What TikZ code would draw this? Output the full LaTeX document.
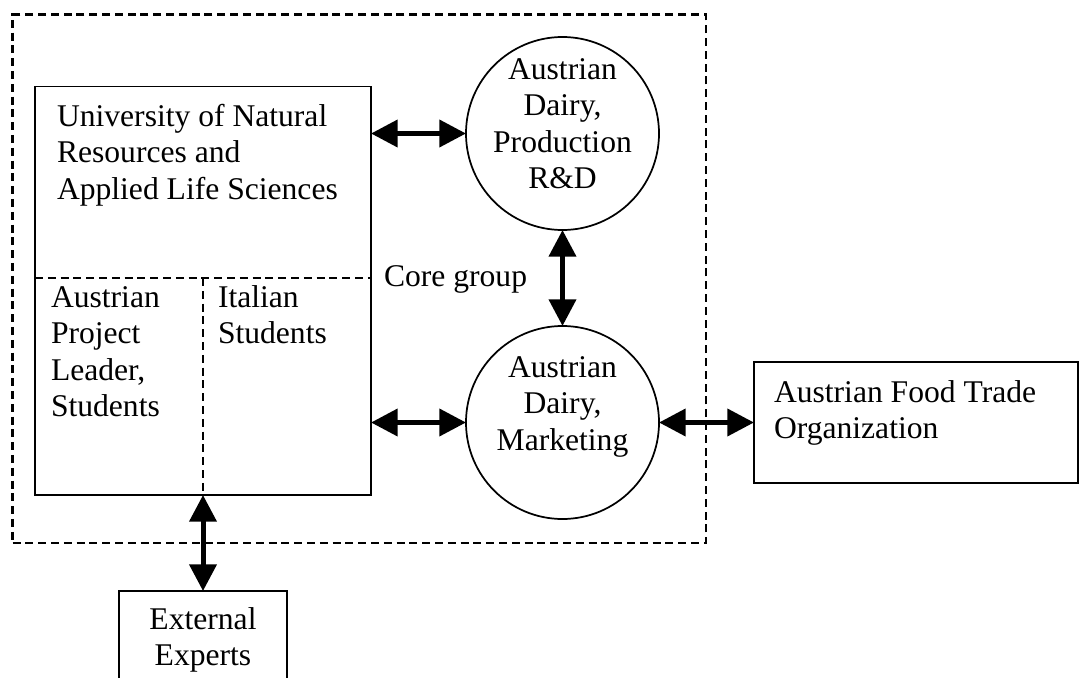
\documentclass[tikz,border=0pt]{standalone}
\usepackage{fontspec}
\setmainfont{Liberation Serif}
\usetikzlibrary{arrows.meta}
\newcommand\tbl[2][l]{\begin{tabular}[t]{@{}#1@{}}#2\end{tabular}}
\begin{document}
\begin{tikzpicture}[x=0.75pt,y=-0.75pt,
  every node/.style={inner sep=0pt, outer sep=0pt},
  frame/.style={draw, line width=1.3pt},
  dashframe/.style={draw, line width=2.2pt, dash pattern=on 6pt off 3.6pt},
  dashline/.style={line width=2pt, dash pattern=on 6pt off 3.6pt},
  txt/.style={font=\fontsize{23.7pt}{27.4pt}\selectfont, anchor=base west},
  ctxt/.style={txt, anchor=base},
  link/.style={line width=3.75pt, {Triangle[length=20pt,width=20pt]}-{Triangle[length=20pt,width=20pt]}}
]
\useasboundingbox (0,0) rectangle (1079,678);
% outer core-group frame
\node[dashframe, minimum width=520pt, minimum height=396.2pt] (core) at (359.35,278.85) {};
% shapes
\node[frame, minimum width=252pt, minimum height=306.4pt] (uni) at (203,290.75) {};
\node[frame, circle, minimum size=144.75pt] (prod) at (562.5,133.5) {};
\node[frame, circle, minimum size=144.75pt] (mkt) at (562.5,422.5) {};
\node[frame, minimum width=243pt, minimum height=90.75pt] (trade) at (916,422.5) {};
\node[frame, minimum width=126pt, minimum height=75pt, anchor=north] (ext) at (203,591) {};
% inner dashed divisions
\coordinate (split) at (203,278);
\draw[dashline] (split -| uni.west) -- (split -| uni.east);
\draw[dashline] (split) -- (split |- uni.south);
% texts
\node[txt] (unitxt) at (57,126) {\tbl{University of Natural\\Resources and\\Applied Life Sciences}};
\node[txt] (auttxt) at (51,307) {\tbl{Austrian\\Project\\Leader,\\Students}};
\node[txt] (itatxt) at (218,307) {\tbl{Italian\\Students}};
\node[txt] (coretxt) at (384,286) {Core group};
\node[ctxt] (prodtxt) at (562.5,79) {\tbl[c]{Austrian\\Dairy,\\Production\\R\&D}};
\node[ctxt] (mkttxt) at (562.5,377) {\tbl[c]{Austrian\\Dairy,\\Marketing}};
\node[txt] (tradetxt) at (774,402) {\tbl{Austrian Food Trade\\Organization}};
\node[ctxt] (exttxt) at (203,629) {\tbl[c]{External\\Experts}};
% connectors
\draw[link] (uni.east |- prod.west) -- (prod.west);
\draw[link] (uni.east |- mkt.west) -- (mkt.west);
\draw[link] (prod.south) -- (mkt.north);
\draw[link] (mkt.east) -- (trade.west);
\draw[link] (uni.south) -- (ext.north);
\end{tikzpicture}
\end{document}
